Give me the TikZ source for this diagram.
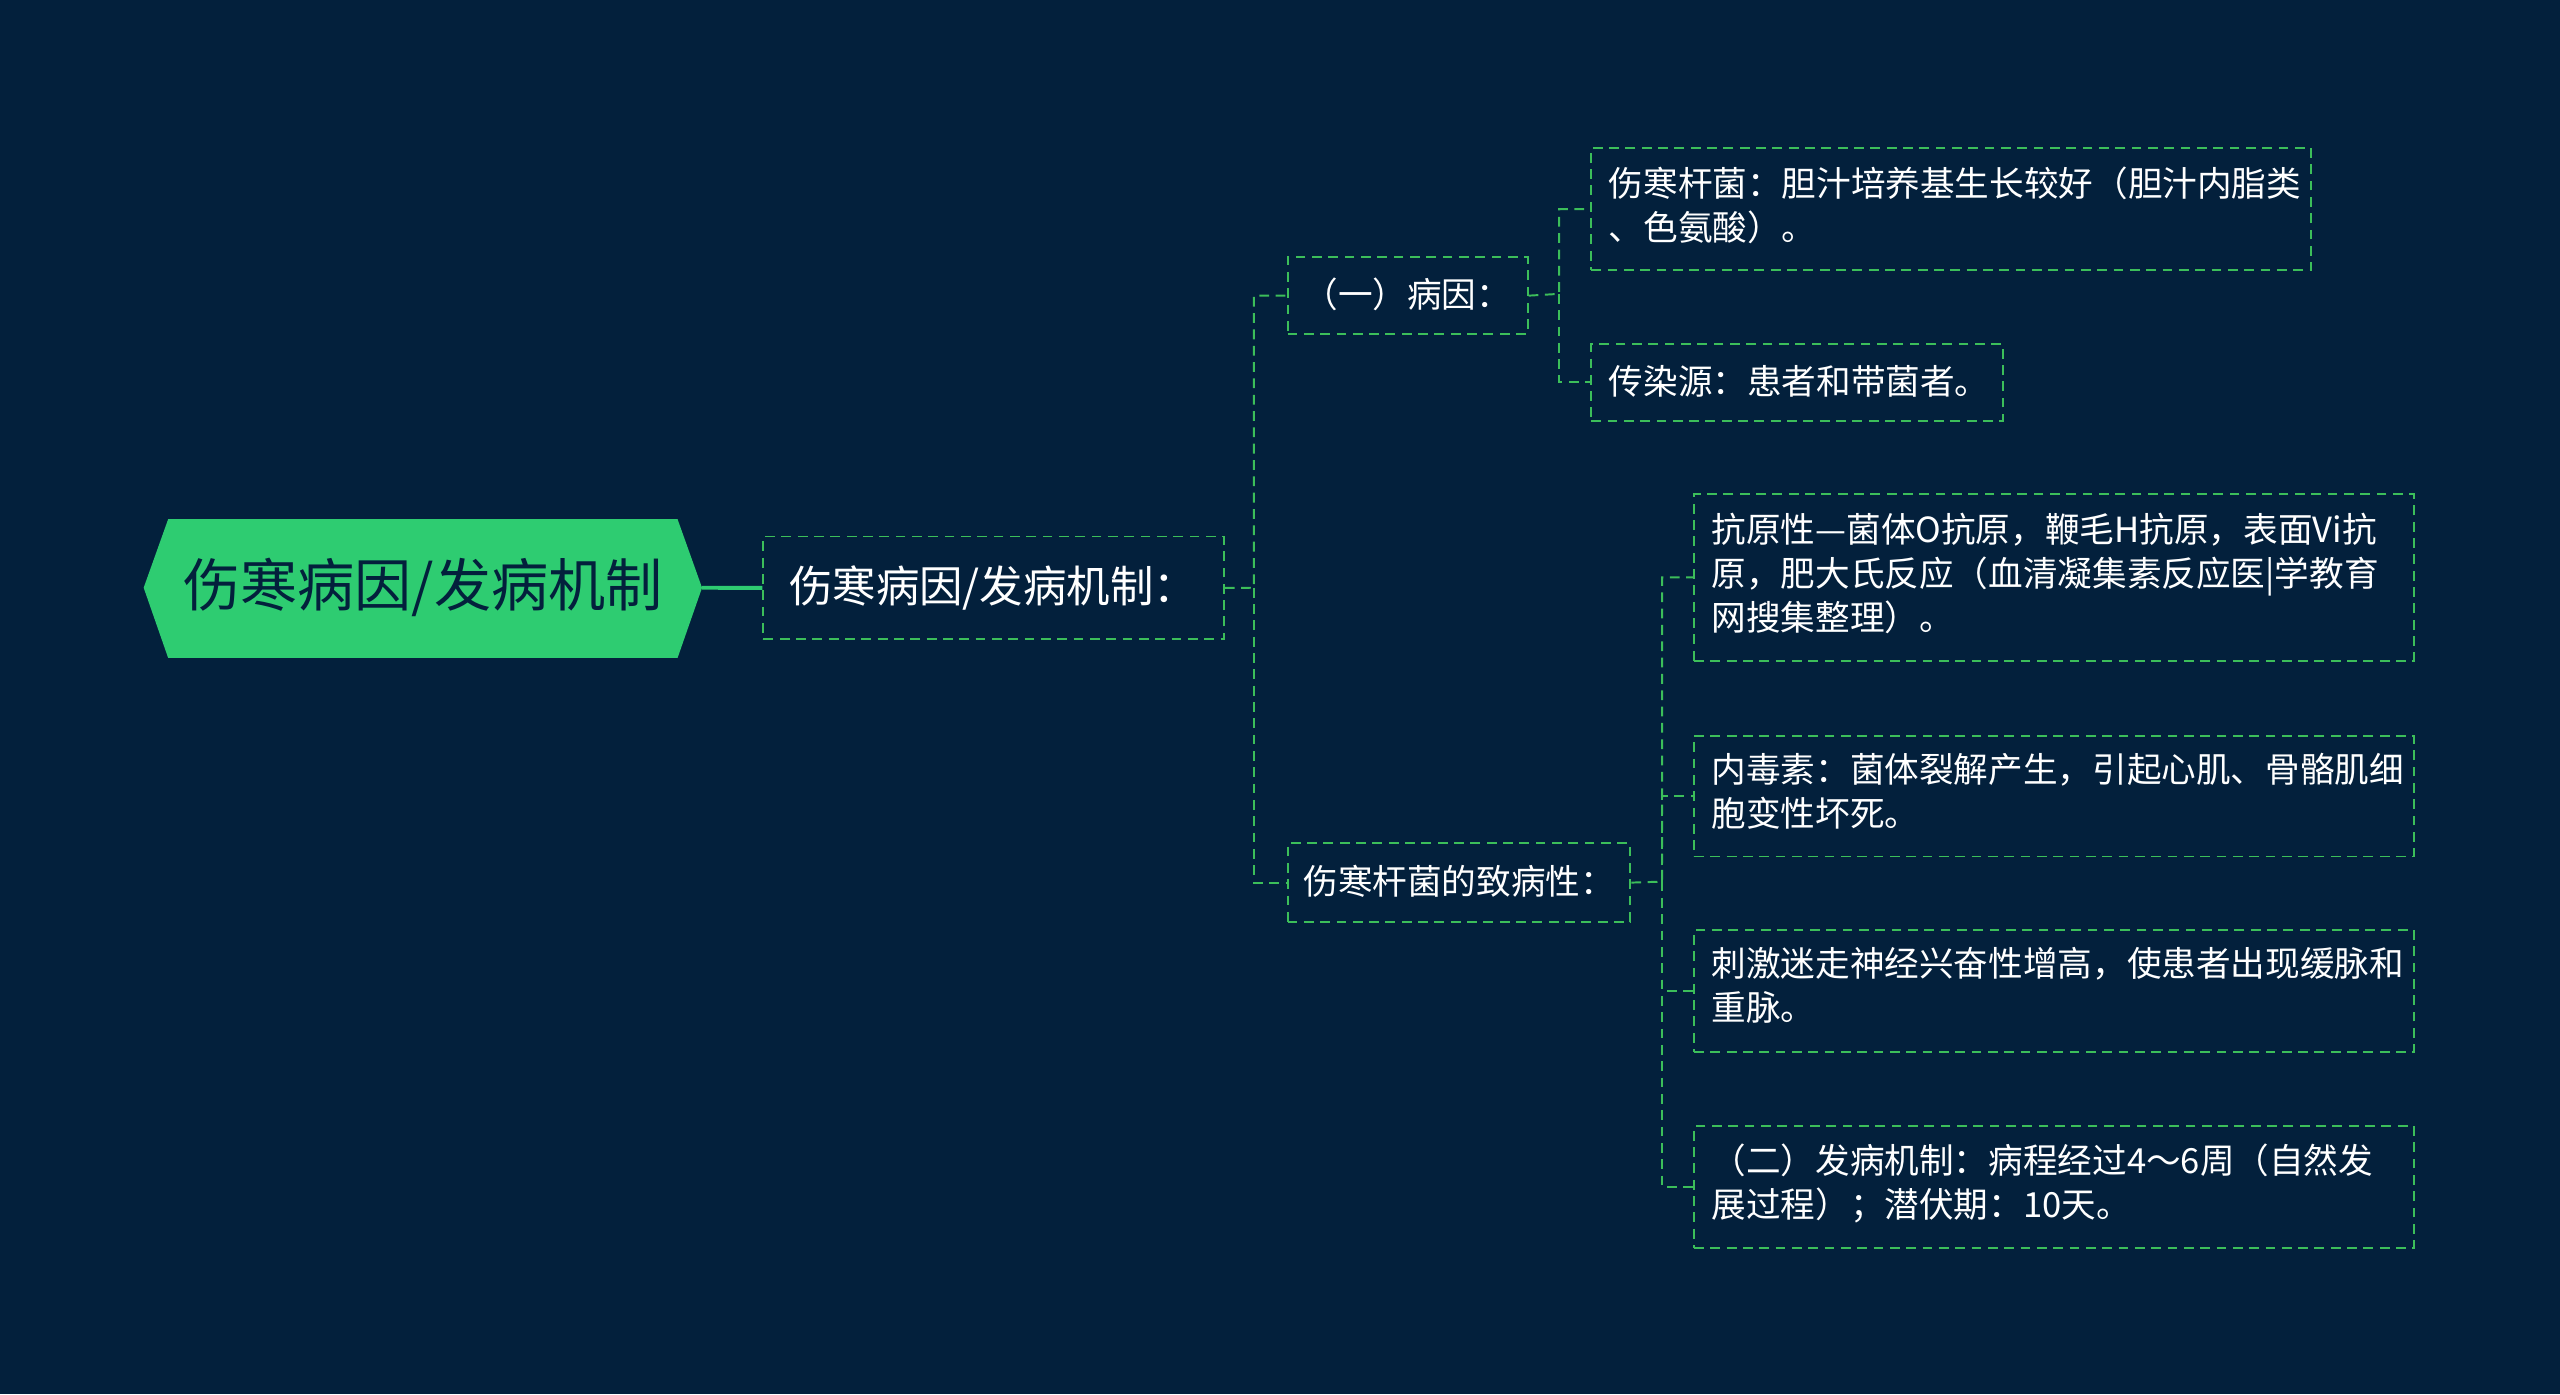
\documentclass[tikz,border=0pt]{standalone}
\usepackage{fontspec}
\setmainfont{Noto Sans CJK SC}
\begin{document}
\begin{tikzpicture}[x=0.5pt,y=-0.5pt,
  gl/.style={color={rgb,255:red,60;green,190;blue,90}, dash pattern=on 3pt off 2pt, line width=0.6pt},
  box/.style={gl, draw, text=white, inner sep=0pt, anchor=north west, align=left},
  con/.style={gl, draw},
  tx/.style={text=white, anchor=north west, align=left, inner sep=0pt, font=\fontsize{10.6pt}{13.5pt}\selectfont},
  tw/.style={text=white, anchor=west, inner sep=0pt, font=\fontsize{10.6pt}{13.5pt}\selectfont}]
\definecolor{bg}{RGB}{3,32,60}
\definecolor{rootc}{RGB}{46,204,113}
\fill[bg] (0,0) rectangle (1568,854);
\useasboundingbox (0,0) rectangle (1568,854);
% root
\fill[rootc] (88,360)--(103,318)--(415,318)--(430,360)--(415,403)--(103,403)--cycle;
\node[font=\fontsize{17.5pt}{20pt}\selectfont, text=bg] (root) at (259,360) {伤寒病因/发病机制};
\coordinate (rootR) at (430,360);
% L1
\node[box, minimum width=141pt, minimum height=31.5pt] (l1) at (467,328) {};
\node[text=white, anchor=west, inner sep=0pt, font=\fontsize{13.3pt}{16pt}\selectfont] at (483,360) {伤寒病因/发病机制：};
\draw[color=rootc, line width=1.2pt] (rootR) -- (l1.west);
% children
\node[box, minimum width=73.5pt, minimum height=23.5pt] (a) at (788,157) {};
\node[tw] at (798,180.5) {（一）病因：};
\node[box, minimum width=105pt, minimum height=24pt] (b) at (788,516) {};
\node[tw] at (798,540) {伤寒杆菌的致病性：};
\draw[con] (l1.east) -- (768,360) |- (a.west);
\draw[con] (768,360) |- (b.west);
% leaves A
\node[box, minimum width=220.5pt, minimum height=37.5pt] (a1) at (974,90) {};
\node[tx] at (985,102) {伤寒杆菌：胆汁培养基生长较好（胆汁内脂类\\、色氨酸）。};
\node[box, minimum width=126pt, minimum height=23.5pt] (a2) at (974,210) {};
\node[tw] at (985,233.5) {传染源：患者和带菌者。};
\draw[con] (a.east) -- (955,180) |- (a1.west);
\draw[con] (955,180) |- (a2.west);
% leaves B
\node[box, minimum width=220.5pt, minimum height=51pt] (b1) at (1037,302) {};
\node[tx] at (1048,314) {抗原性—菌体O抗原，鞭毛H抗原，表面Vi抗\\原，肥大氏反应（血清凝集素反应医|学教育\\网搜集整理）。};
\node[box, minimum width=220.5pt, minimum height=37pt] (b2) at (1037,450) {};
\node[tx] at (1048,461) {内毒素：菌体裂解产生，引起心肌、骨骼肌细\\胞变性坏死。};
\node[box, minimum width=220.5pt, minimum height=37.5pt] (b3) at (1037,569) {};
\node[tx] at (1048,580) {刺激迷走神经兴奋性增高，使患者出现缓脉和\\重脉。};
\node[box, minimum width=220.5pt, minimum height=37.5pt] (b4) at (1037,689) {};
\node[tx] at (1048,700) {（二）发病机制：病程经过4～6周（自然发\\展过程）；潜伏期：10天。};
\draw[con] (b.east) -- (1018,540) |- (b1.west);
\draw[con] (1018,540) |- (b2.west);
\draw[con] (1018,540) |- (b3.west);
\draw[con] (1018,540) |- (b4.west);
\end{tikzpicture}
\end{document}
